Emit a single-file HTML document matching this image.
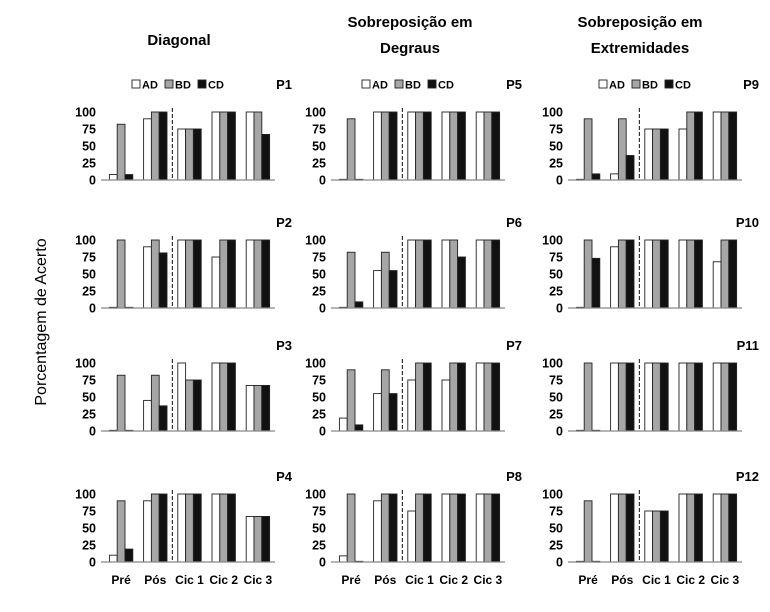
<!DOCTYPE html>
<html><head><meta charset="utf-8"><style>
html,body{margin:0;padding:0;background:#fff;}
svg{display:block;font-family:"Liberation Sans",sans-serif;}
</style></head><body>
<svg id="chart" width="770" height="612" viewBox="0 0 770 612" xmlns="http://www.w3.org/2000/svg">
<rect width="770" height="612" fill="#fff"/>
<g font-weight="bold" font-size="15" text-anchor="middle" fill="#000">
<text x="179" y="45">Diagonal</text>
<text x="410" y="27">Sobreposição em</text>
<text x="410" y="53">Degraus</text>
<text x="640" y="27">Sobreposição em</text>
<text x="640" y="53">Extremidades</text>
</g>
<text transform="translate(46,322) rotate(-90)" font-size="16" text-anchor="middle">Porcentagem de Acerto</text>
<g id="panels"></g>
</svg>
<script>
const categories = ["Pré","Pós","Cic 1","Cic 2","Cic 3"];
const seriesNames = ["AD","BD","CD"];
const panelNames = ["P1","P2","P3","P4","P5","P6","P7","P8","P9","P10","P11","P12"];
const tickLabels = [0,25,50,75,100];
const adValues = [
 [8,90,75,100,100],[1,90,100,75,100],[1,45,100,100,67],[10,90,100,100,67],
 [1,100,100,100,100],[1,55,100,100,100],[19,55,75,75,100],[9,90,75,100,100],
 [1,9,75,75,100],[1,90,100,100,68],[1,100,100,100,100],[1,100,75,100,100]];
const bdValues = [
 [82,100,75,100,100],[100,100,100,100,100],[82,82,75,100,67],[90,100,100,100,67],
 [90,100,100,100,100],[82,82,100,100,100],[90,90,100,100,100],[100,100,100,100,100],
 [90,90,75,100,100],[100,100,100,100,100],[100,100,100,100,100],[90,100,75,100,100]];
const cdValues = [
 [8,100,75,100,67],[1,81,100,100,100],[1,37,75,100,67],[19,100,100,100,67],
 [1,100,100,100,100],[9,55,100,75,100],[9,55,100,100,100],[1,100,100,100,100],
 [9,36,75,100,100],[73,100,100,100,100],[1,100,100,100,100],[1,100,75,100,100]];

const NS="http://www.w3.org/2000/svg";
const root=document.getElementById('panels');
function mk(tag,attrs,parent){const e=document.createElementNS(NS,tag);for(const k in attrs)e.setAttribute(k,attrs[k]);(parent||root).appendChild(e);return e;}
const colX=[101,331,568];
const rowTop=[112,240,363,494];
const plotH=68, axisW=174;
const fills=["#ffffff","#a6a6a6","#111111"];
const allVals=[adValues,bdValues,cdValues];
for(let p=0;p<12;p++){
  const col=Math.floor(p/4), row=p%4;
  const x0=colX[col], top=rowTop[row], bottom=top+plotH;
  const g=mk('g',{});
  
  
  const yS=v=>bottom-v/100*plotH;
  const start=x0+3, slot=(axisW-3)/5, bw=7.8;
  tickLabels.forEach(t=>{
    const tl=mk('text',{x:x0-5,y:yS(t)+4.5,'font-size':12.5,'font-weight':'bold','text-anchor':'end'},g);
    tl.textContent=t;
    
    
  });
  for(let c=0;c<5;c++){
    const cx=start+slot*(c+0.5);
    for(let s=0;s<3;s++){
      const v=allVals[s][p][c];
      const bx=cx-1.5*bw+s*bw;
      const r=mk('rect',{x:bx,y:yS(v),width:bw,height:Math.max(v/100*plotH,0.8),fill:fills[s],stroke:'#222','stroke-width':0.9},g);
      
      
    }
    if(row===3){
      const xl=mk('text',{x:cx,y:584,'font-size':12,'font-weight':'bold','text-anchor':'middle'},g);
      xl.textContent=categories[c];
      
      
    }
  }
  const ax=mk('line',{x1:x0,x2:x0+axisW,y1:bottom,y2:bottom,stroke:'#888','stroke-width':1.2},g);
  
  
  const dx=start+slot*2;
  const dl=mk('line',{x1:dx,x2:dx,y1:top-4,y2:bottom,stroke:'#333','stroke-width':1.2,'stroke-dasharray':'4,2'},g);
  
  
  const pl=mk('text',{x:x0+191,y:row===0?89:top-13,'font-size':13,'font-weight':'bold','text-anchor':'end'},g);
  pl.textContent=panelNames[p];
  
  
  if(row===0){
    const lg=mk('g',{},g);
    
    
    let lx=x0+31;
    for(let s=0;s<3;s++){
      const sw=mk('rect',{x:lx,y:80,width:8,height:8,fill:fills[s],stroke:'#222','stroke-width':0.9},lg);
      
      
      const lt=mk('text',{x:lx+10,y:88.5,'font-size':11,'font-weight':'bold'},lg);
      lt.textContent=seriesNames[s];
      
      
      lx+=33;
    }
  }
}
</script>
</body></html>
